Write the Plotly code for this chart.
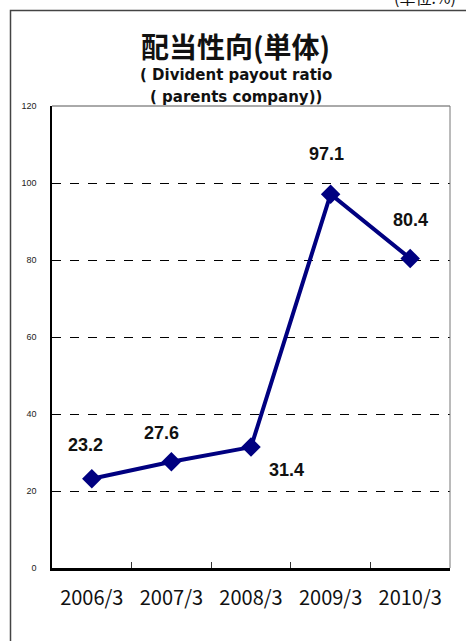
import plotly.graph_objects as go

categories = ["2006/3", "2007/3", "2008/3", "2009/3", "2010/3"]
payout = [23.2, 27.6, 31.4, 97.1, 80.4]
label_shift_x = [-6, -10, 35, -4, 0]
label_shift_y = [34, 29, -23, 40, 38]

FONT = "Noto Sans CJK JP, Noto Sans, DejaVu Sans, sans-serif"
LATIN = "DejaVu Sans, Noto Sans, sans-serif"
NUM = "Liberation Sans, Arial, sans-serif"
W, H = 466, 641
L, R, T, B = 52, 16, 106, 73
pw, ph = W - L - R, H - T - B

def px(x):
    return (x - L) / pw

def py(y):
    return (H - B - y) / ph

fig = go.Figure()
fig.add_trace(go.Scatter(
    x=categories, y=payout, mode="lines+markers",
    line=dict(color="#000080", width=4),
    marker=dict(symbol="diamond", size=15, color="#000080"),
    cliponaxis=False, hoverinfo="skip", showlegend=False,
))

annotations = []
for c, v, dx, dy in zip(categories, payout, label_shift_x, label_shift_y):
    annotations.append(dict(x=c, y=v, text=f"<b>{v}</b>", showarrow=False,
                            xshift=dx, yshift=dy, xanchor="center", yanchor="middle",
                            font=dict(family=NUM, size=18, color="#111")))

def text_at(x, y, text, family, size):
    return dict(xref="paper", yref="paper", x=px(x), y=py(y), text=text,
                xanchor="center", yanchor="middle", showarrow=False,
                font=dict(family=family, size=size, color="#111"))

annotations += [
    text_at(235, 46, "<b>配当性向(単体)</b>", FONT, 28),
    text_at(236, 75, "<b>( Divident payout ratio</b>", LATIN, 15),
    text_at(236, 97, "<b>( parents company))</b>", LATIN, 15),
    text_at(425, -3, "(単位:%)", FONT, 16),
]

shapes = [
    # outer frame
    dict(type="rect", xref="paper", yref="paper", x0=px(10.5), y0=py(700), x1=px(520), y1=py(10.5),
         line=dict(color="#444", width=1.5), layer="below"),
    # plot top & right border
    dict(type="line", xref="paper", yref="paper", x0=0, x1=1, y0=1, y1=1,
         line=dict(color="#555", width=1)),
    dict(type="line", xref="paper", yref="paper", x0=1, x1=1, y0=0, y1=1,
         line=dict(color="#777", width=1)),
]

fig.update_layout(
    width=W, height=H, margin=dict(l=L, r=R, t=T, b=B, autoexpand=False),
    paper_bgcolor="white", plot_bgcolor="white",
    annotations=annotations, shapes=shapes,
    font=dict(family=FONT),
    xaxis=dict(type="category", range=[-0.5, 4.5], tickson="boundaries", ticks="inside", ticklen=6,
               tickcolor="#333", showgrid=False, showline=True, linecolor="black",
               linewidth=2.5, tickfont=dict(family=FONT, size=20, color="#111"),
               ticklabelstandoff=10, automargin=False, fixedrange=True),
    yaxis=dict(range=[0, 120], dtick=20, showgrid=True, gridcolor="black", griddash="dash",
               gridwidth=1, zeroline=False, showline=True, linecolor="black", linewidth=1.5,
               ticks="", tickfont=dict(family=NUM, size=9, color="#222"),
               ticklabelstandoff=12, automargin=False, fixedrange=True),
)

fig.write_html("out.html", config={"displayModeBar": False},
               post_script="document.body.style.margin='0';document.body.style.overflow='hidden';")
